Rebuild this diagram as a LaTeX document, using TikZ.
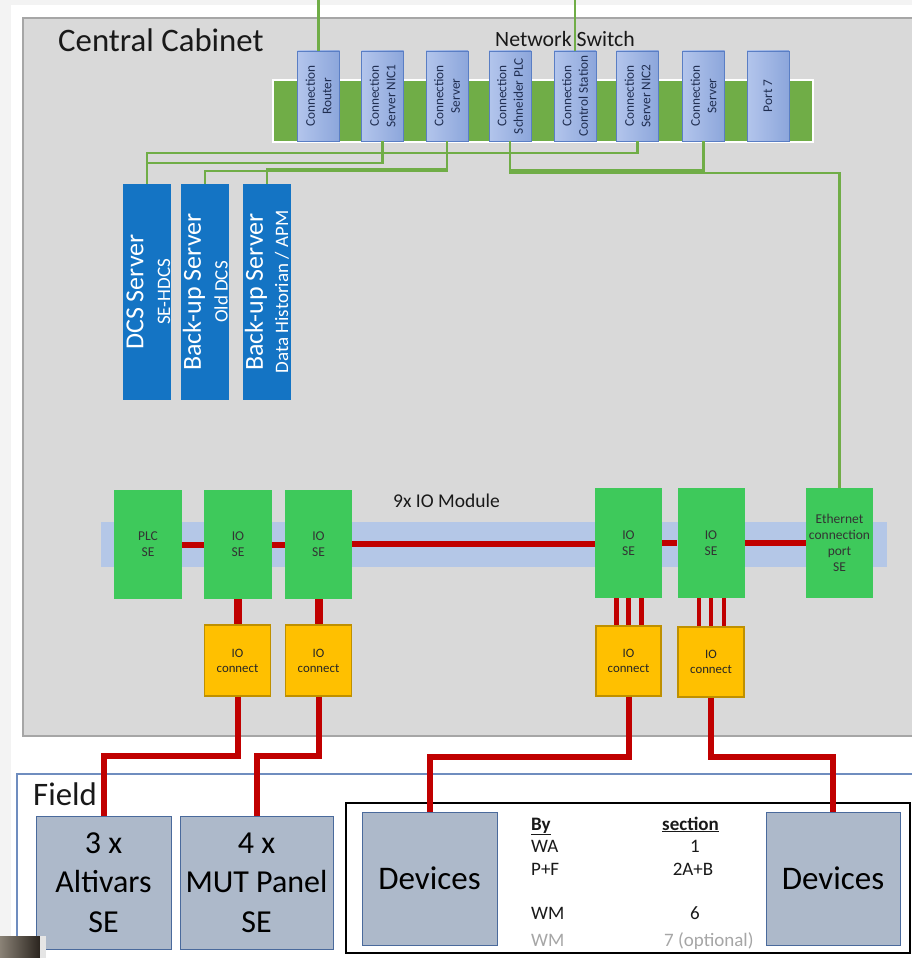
\documentclass[tikz,border=0pt]{standalone}
\usepackage{fontspec}
\setmainfont{Carlito}
\usetikzlibrary{calc}
\definecolor{cabGray}{HTML}{D9D9D9}
\definecolor{cabBorder}{HTML}{A6A6A6}
\definecolor{swGreen}{HTML}{70AD47}
\definecolor{portL}{HTML}{B3C5EC}
\definecolor{portR}{HTML}{8CA6DB}
\definecolor{portB}{HTML}{5A7EC4}
\definecolor{portT}{HTML}{1F2D50}
\definecolor{srvBlue}{HTML}{1474C4}
\definecolor{ioGreen}{HTML}{3EC95B}
\definecolor{ioBar}{HTML}{B4C7E7}
\definecolor{cRed}{HTML}{C00000}
\definecolor{ioY}{HTML}{FFC000}
\definecolor{ioYB}{HTML}{BF9000}
\definecolor{fieldFill}{HTML}{ADB9CA}
\definecolor{fieldB}{HTML}{4A6A9C}
\definecolor{fieldFrame}{HTML}{6F8DBF}
\definecolor{stripGray}{HTML}{F3F3F3}
\definecolor{optGray}{HTML}{A6A6A6}
\definecolor{photoL}{HTML}{8A8276}
\definecolor{photoR}{HTML}{2A241E}
\begin{document}
\begin{tikzpicture}[x=1pt,y=-1pt,line join=miter,
  port/.style={rectangle, draw=portB, line width=0.8pt, left color=portL, right color=portR, minimum width=42, minimum height=90, inner sep=0pt},
  porttxt/.style={rotate=90, align=center, text=portT, font=\fontsize{13.3}{16.5}\selectfont, inner sep=0pt},
  srv/.style={rectangle, fill=srvBlue, minimum width=48, minimum height=216, inner sep=0pt},
  srvmain/.style={rotate=90, text=white, font=\fontsize{26}{28}\selectfont, inner sep=0pt},
  srvsub/.style={rotate=90, text=white, font=\fontsize{19}{22}\selectfont, inner sep=0pt},
  iobox/.style={rectangle, fill=ioGreen, minimum width=68, minimum height=109, align=center, font=\fontsize{13.5}{15.8}\selectfont, text=black!80, inner sep=0pt},
  iocbox/.style={rectangle, fill=ioY, draw=ioYB, line width=1.2pt, minimum width=66, minimum height=70, align=center, font=\fontsize{12.8}{15}\selectfont, text=black!85, inner sep=0pt},
  fbox/.style={rectangle, fill=fieldFill, draw=fieldB, line width=1pt, align=center, font=\fontsize{32}{39.5}\selectfont, inner sep=0pt},
  gline/.style={draw=swGreen, line width=2.6pt},
  rline/.style={draw=cRed, line width=6pt},
  title/.style={anchor=base west, inner sep=0pt, font=\fontsize{32.8}{38}\selectfont, text=black!90},
  tbl/.style={anchor=base west, inner sep=0pt, font=\fontsize{19}{22}\selectfont, text=black!90},
  tblc/.style={anchor=base, inner sep=0pt, font=\fontsize{19}{22}\selectfont, text=black!90},
]
\useasboundingbox (0,0) rectangle (912,958);
\clip (0,0) rectangle (912,958);
\fill[white] (0,0) rectangle (912,958);
\fill[stripGray] (0,0) rectangle (11,958);
\fill[stripGray] (0,0) rectangle (912,5);

% containers
\filldraw[fill=cabGray, draw=cabBorder, line width=1.2pt] (23,18) rectangle (940,736);
\filldraw[fill=white, draw=fieldFrame, line width=1.2pt] (17,774) rectangle (940,980);
\draw[black, line width=2pt] (346,803) rectangle (910,953);

% titles
\node[title] (cabT) at (58,52) {Central Cabinet};
\node[anchor=base west, inner sep=0pt, font=\fontsize{21.8}{25}\selectfont, text=black!90] (swT) at (495,47) {Network Switch};
\node[anchor=base west, inner sep=0pt, font=\fontsize{19.5}{23}\selectfont, text=black!90] (ioT) at (393,507) {9x IO Module};
\node[title] (fieldT) at (33,805) {Field};

% network switch
\node[rectangle, fill=swGreen, draw=white, line width=2.5pt, minimum width=540, minimum height=62, inner sep=0pt] (sw) at (543,111) {};
\node[port] (p1) at (318.5,96) {};
\node[port] (p2) at (382.5,96) {};
\node[port] (p3) at (447,96) {};
\node[port] (p4) at (510,96) {};
\node[port] (p5) at (575,96) {};
\node[port] (p6) at (637.5,96) {};
\node[port] (p7) at (703.5,96) {};
\node[port] (p8) at (768,96) {};
\node[porttxt] (p1t) at (p1) {Connection\\Router};
\node[porttxt] (p2t) at (p2) {Connection\\Server NIC1};
\node[porttxt] (p3t) at (p3) {Connection\\Server};
\node[porttxt] (p4t) at (p4) {Connection\\Schneider PLC};
\node[porttxt] (p5t) at (p5) {Connection\\Control Station};
\node[porttxt] (p6t) at (p6) {Connection\\Server NIC2};
\node[porttxt] (p7t) at (p7) {Connection\\Server};
\node[porttxt] (p8t) at (p8) {Port 7};

% servers
\node[srv] (dcs) at (147,292) {};
\node[srv] (bk1) at (205,292) {};
\node[srv] (bk2) at (267,292) {};
\node[srvmain] (dcsA) at (135,292) {DCS Server};
\node[srvsub] (dcsB) at (164,292) {SE-HDCS};
\node[srvmain] (bk1A) at (194,292) {Back-up Server};
\node[srvsub] (bk1B) at (221,292) {Old DCS};
\node[srvmain] (bk2A) at (256,292) {Back-up Server};
\node[srvsub] (bk2B) at (282,292) {Data Historian / APM};

% IO bar and modules
\fill[ioBar] (101,522) rectangle (887,567);
\node[iobox] (plc) at (148,544.5) {PLC\\SE};
\node[iobox] (io1) at (238,544.5) {IO\\SE};
\node[iobox, minimum width=67] (io2) at (318.5,544.5) {IO\\SE};
\node[iobox, minimum width=67, minimum height=110] (io3) at (628.5,543) {IO\\SE};
\node[iobox, minimum width=67, minimum height=110] (io4) at (711,543) {IO\\SE};
\node[iobox, minimum width=67, minimum height=110] (eth) at (839.5,543) {Ethernet\\connection\\port\\SE};

\node[iocbox, minimum height=71] (ioc1) at (237.5,660.5) {IO\\connect};
\node[iocbox, minimum height=71] (ioc2) at (318.5,660.5) {IO\\connect};
\node[iocbox, minimum width=65] (ioc3) at (628.5,661) {IO\\connect};
\node[iocbox] (ioc4) at (711,662) {IO\\connect};

% field devices
\node[fbox, minimum width=135, minimum height=133] (alt) at (103.5,882.5) {3 x\\Altivars\\SE};
\node[fbox, minimum width=153, minimum height=133] (mut) at (256.5,882.5) {4 x\\MUT Panel\\SE};
\node[fbox, minimum width=135, minimum height=133, font=\fontsize{33}{38}\selectfont] (dev1) at (429.5,878.5) {Devices};
\node[fbox, minimum width=134, minimum height=133, font=\fontsize{33}{38}\selectfont] (dev2) at (833,878.5) {Devices};

% table
\node[tbl] (tBy) at (531,830) {\textbf{\underline{By}}};
\node[tbl] (tSec) at (662,830) {\textbf{\underline{section}}};
\node[tbl] (tWA) at (531,852) {WA};
\node[tblc] (t1) at (695,852) {1};
\node[tbl] (tPF) at (531,875) {P+F};
\node[tblc] (t2) at (693,875) {2A+B};
\node[tbl] (tWM) at (531,919) {WM};
\node[tblc] (t6) at (695,919) {6};
\node[tbl, text=optGray] (tWM2) at (531,946) {WM};
\node[tbl, text=optGray] (t7) at (664,946) {7 (optional)};

% green network connectors
\coordinate (top) at (0,0);
\draw[gline] (p1.north) -- (p1.north |- top);
\draw[gline] (p5.north) -- (p5.north |- top);
\draw[gline] (p6.south) |- ($(dcs.north)+(0,-31)$) -- (dcs.north);
\draw[gline] (p2.south) |- ($(dcs.north)+(0,-21)$);
\draw[gline] (p3.south) |- ($(bk1.north)+(0,-13)$) -- (bk1.north);
\draw[gline] (p3.south) |- ($(bk2.north)+(0,-15)$) -- (bk2.north);
\draw[gline] (p7.south) |- ($(p4.south)+(0,29)$);
\draw[gline] (p4.south) |- ($(eth.north)+(0,-315)$) -- (eth.north);

% red IO connectors
\draw[rline] (plc.east) -- (io1.west);
\draw[rline] (io1.east) -- (io2.west);
\draw[rline] ($(io2.east)+(0,-1)$) -- ($(io2.east -| io3.west)+(0,-1)$);
\draw[rline] (io3.east) -- (io4.west);
\draw[rline] (io4.east) -- (eth.west);
\draw[rline, line width=8pt] (io1.south) -- (io1.south |- ioc1.north);
\draw[rline, line width=8pt] (io2.south) -- (io2.south |- ioc2.north);
\foreach \o in {-12,0,13}{
  \draw[rline, line width=4.5pt] ($(io3.south)+(\o,0)$) -- ($(io3.south |- ioc3.north)+(\o,0)$);
  \draw[rline, line width=4.5pt] ($(io4.south)+(\o,0)$) -- ($(io4.south |- ioc4.north)+(\o,0)$);
}
\draw[rline] (ioc1.south) -- ++(0,59) -| (alt.north);
\draw[rline] (ioc2.south) -- ++(0,59) -| (mut.north);
\draw[rline] (ioc3.south) -- ++(0,60) -| (dev1.north);
\draw[rline] (ioc4.south) -- ++(0,59) -| (dev2.north);

% photo fragment bottom-left
\shade[left color=photoL, right color=photoR] (0,936) rectangle (40,958);
\fill[black!10] (40,936) rectangle (46,958);
\end{tikzpicture}
\end{document}
